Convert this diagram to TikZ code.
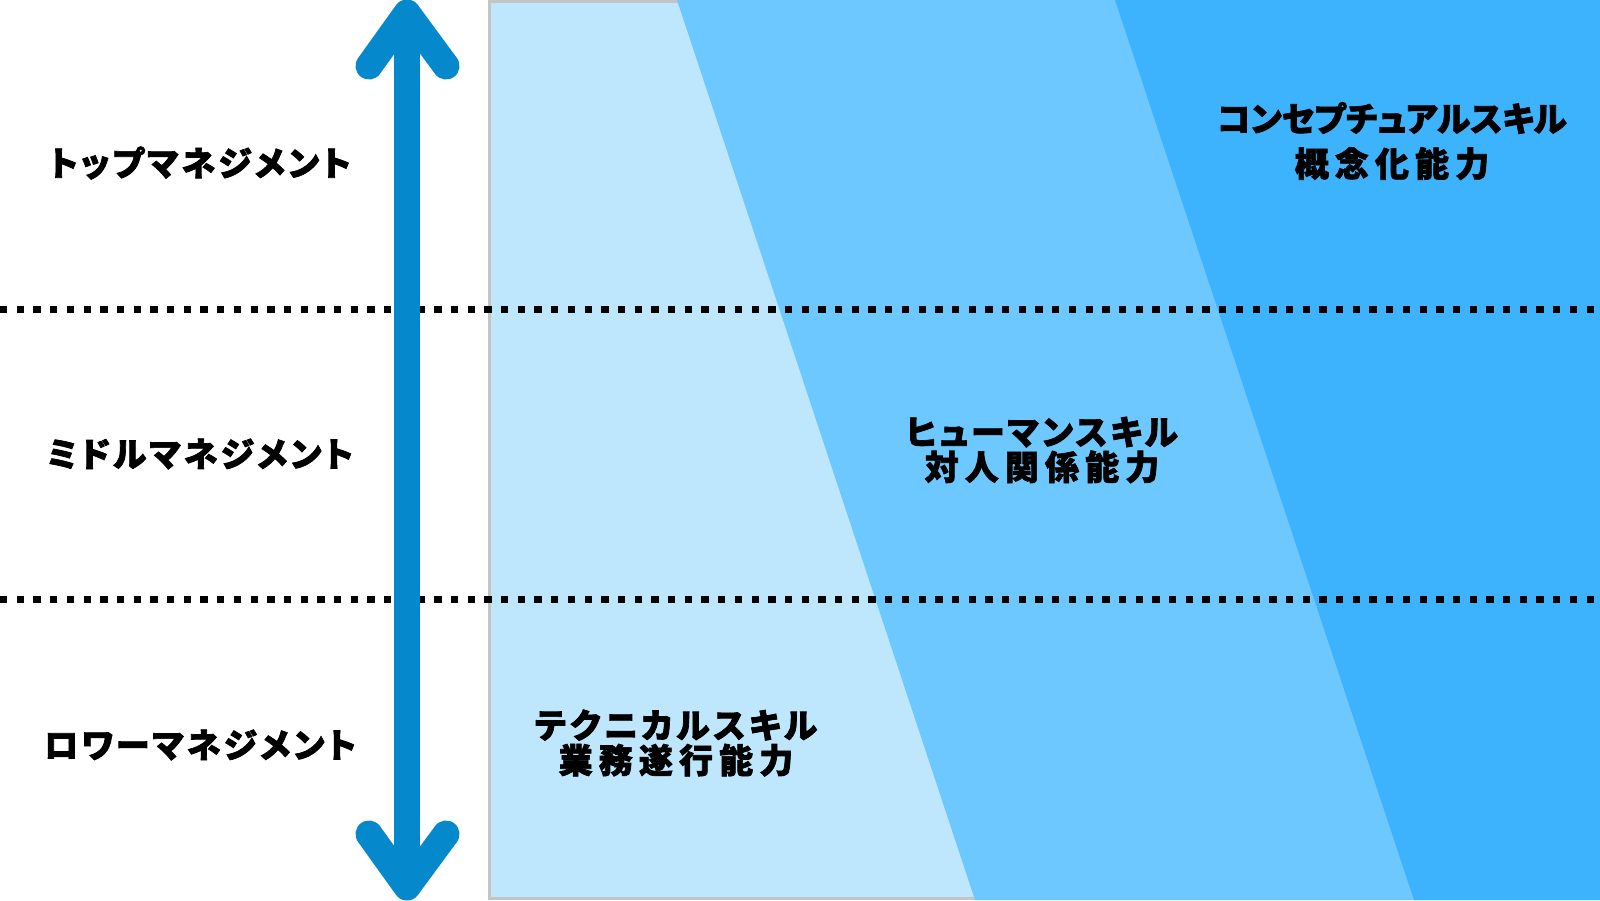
\documentclass[tikz,border=0pt]{standalone}
\usepackage{fontspec}
\newfontfamily\jp{Noto Sans CJK JP}[BoldFeatures={FakeBold=2}, RawFeature=+palt, LetterSpace=10]
\definecolor{arrowblue}{HTML}{0688CC}
\definecolor{bandlight}{HTML}{BEE6FC}
\definecolor{bandmid}{HTML}{6CC8FE}
\definecolor{banddark}{HTML}{3CB3FC}
\definecolor{bordergray}{HTML}{C4C4C4}
\newcommand{\ls}[2]{{\addfontfeature{LetterSpace=#1}#2}}
\begin{document}
\begin{tikzpicture}[x=1pt,y=-1pt,
  lvl/.style={font=\jp\bfseries\fontsize{34}{36}\selectfont, text=black, inner sep=0pt},
  skill/.style={font=\jp\bfseries\fontsize{34}{35}\selectfont, text=black, align=center, inner sep=0pt},
  divider/.style={line width=7pt, dash pattern=on 7.3pt off 9.4pt, black},
  shaft/.style={line width=26pt, arrowblue},
  chev/.style={line width=27pt, arrowblue, line cap=round, line join=round}]
\useasboundingbox (0,0) rectangle (1600,900);
\fill[white] (0,0) rectangle (1600,900);
% panel
\fill[bandlight] (489,1.5) rectangle (1600,898.5);
\draw[bordergray, line width=3pt] (1600,1.5) -- (489,1.5) -- (489,898.5) -- (1600,898.5);
\fill[bandmid] (677,0) -- (1600,0) -- (1600,900) -- (975,900) -- cycle;
\fill[banddark] (1115,0) -- (1600,0) -- (1600,900) -- (1414,900) -- cycle;
% dividers
\coordinate (d1a) at (0,309); \coordinate (d1b) at (1600,309);
\coordinate (d2a) at (0,599); \coordinate (d2b) at (1600,599);
\draw[divider] (d1a) -- (d1b);
\draw[divider] (d2a) -- (d2b);
% arrow
\coordinate (atop) at (407,13);
\coordinate (abot) at (407,887);
\draw[shaft] (atop) -- (abot);
\draw[chev] (369,66) -- (atop) -- (446,66);
\draw[chev] (369,834) -- (abot) -- (446,834);
% level labels
\node[lvl] (top) at (200,163) {\ls{9}{トップマネジメント}};
\node[lvl] (mid) at (200,454) {\ls{9}{ミドルマネジメント}};
\node[lvl] (low) at (200,745) {\ls{9}{ロワーマネジメント}};
% skill labels
\node[skill] (concept) at (1392,141) {\ls{0}{コンセプチュアルスキル}\\[10pt]\ls{18}{概念化能力}};
\node[skill] (human) at (1042,450) {\ls{9}{ヒューマンスキル}\\\ls{18}{対人関係能力}};
\node[skill] (tech) at (676,743) {\ls{11}{テクニカルスキル}\\\ls{18}{業務遂行能力}};
\end{tikzpicture}
\end{document}
